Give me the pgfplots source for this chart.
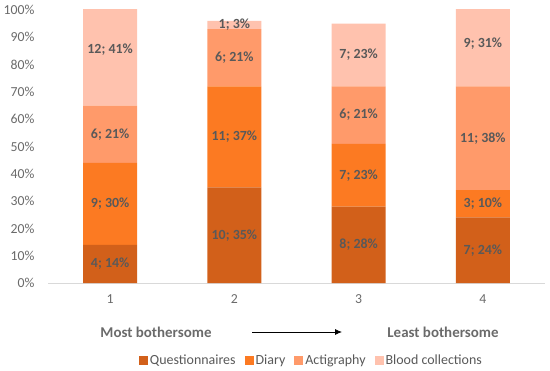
\documentclass[border=0pt]{standalone}
\usepackage{pgfplots}
\pgfplotsset{compat=1.18}
\usetikzlibrary{arrows.meta}
\usepackage{fontspec}
\setmainfont{Carlito}
\definecolor{cQ}{HTML}{D2601A}
\definecolor{cD}{HTML}{FC7A22}
\definecolor{cA}{HTML}{FF9A6A}
\definecolor{cB}{HTML}{FFC2AE}
\definecolor{txt}{HTML}{595959}
\definecolor{tickc}{HTML}{6A6A6A}
\protected\def\sm{;\ }
\begin{document}
\begin{tikzpicture}
\useasboundingbox (-48bp,-88bp) rectangle (502bp,283bp);
\pgfplotsset{common/.style={
  scale only axis, width=497bp, height=273bp,
  xmin=0.5, xmax=4.5, ymin=0, ymax=100,
  at={(0,0)}, anchor=south west,
}}
\begin{axis}[common,
  ybar stacked, bar width=54bp,
  axis x line*=bottom, axis y line*=left,
  y axis line style={draw=none},
  x axis line style={draw=black!15, line width=0.8bp},
  major tick length=0pt,
  xtick={1,2,3,4},
  ytick={0,10,...,100},
  yticklabel={\pgfmathprintnumber{\tick}\%},
  /pgf/number format/assume math mode=true,
  ticklabel style={font=\fontsize{13.8}{16}\selectfont, text=tickc},
  xticklabel style={yshift=-8bp},
  yticklabel style={xshift=-10bp},
  legend style={at={(0.530,-0.285)}, anchor=center, draw=none,
    font=\fontsize{14}{16}\selectfont, text=txt,
    /tikz/every even column/.append style={column sep=7bp}},
  legend columns=-1,
  legend image code/.code={\fill[#1] (0bp,-4.5bp) rectangle (9bp,4.5bp);},
]
\addplot[fill=cQ, draw=none] coordinates {(1,14) (2,35) (3,28) (4,24)};
\addplot[fill=cD, draw=none] coordinates {(1,30) (2,37) (3,23) (4,10)};
\addplot[fill=cA, draw=none] coordinates {(1,21) (2,21) (3,21) (4,38)};
\addplot[fill=cB, draw=none] coordinates {(1,41) (2,3) (3,23) (4,31)};
\legend{Questionnaires, Diary, Actigraphy, Blood collections}
\end{axis}
\begin{axis}[common, hide axis, clip=false]
\addplot[only marks, mark=none, nodes near coords, point meta=explicit symbolic,
  every node near coord/.append style={anchor=center, font=\bfseries\fontsize{14}{16}\selectfont, text=txt}]
table[x=x, y=y, meta=label, col sep=comma, row sep=\\] {
x,y,label\\
1,7,4\sm 14\%\\
1,29,9\sm 30\%\\
1,54.5,6\sm 21\%\\
1,85.5,12\sm 41\%\\
2,17.5,10\sm 35\%\\
2,53.5,11\sm 37\%\\
2,82.5,6\sm 21\%\\
2,94.5,1\sm 3\%\\
3,14,8\sm 28\%\\
3,39.5,7\sm 23\%\\
3,61.5,6\sm 21\%\\
3,83.5,7\sm 23\%\\
4,12,7\sm 24\%\\
4,29,3\sm 10\%\\
4,53,11\sm 38\%\\
4,87.5,9\sm 31\%\\
};
\end{axis}
\node[font=\bfseries\fontsize{15}{18}\selectfont, text=tickc] at (108bp,-49bp) {Most bothersome};
\draw[-{Latex[length=7bp,width=6bp]}, line width=0.8bp] (204bp,-49bp) -- (294bp,-49bp);
\node[font=\bfseries\fontsize{15}{18}\selectfont, text=tickc] at (395bp,-49bp) {Least bothersome};
\end{tikzpicture}
\end{document}
